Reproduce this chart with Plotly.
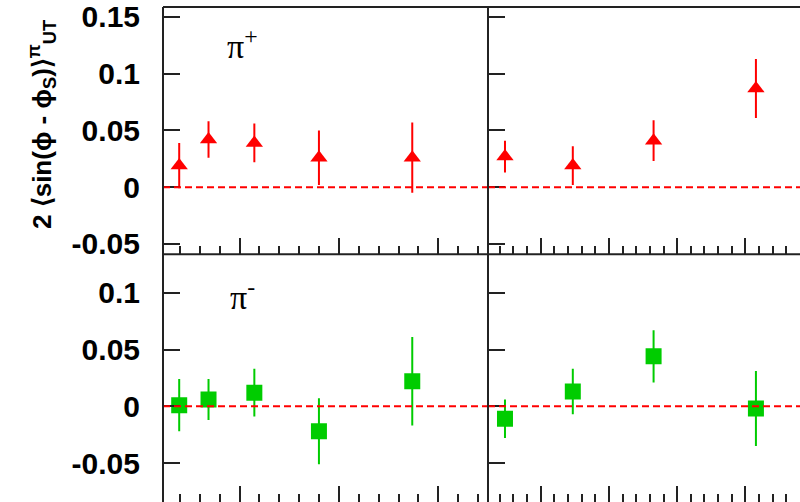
import plotly.graph_objects as go

# ---------------- data ----------------
# kinematic positions of the bins (left column / right column)
x_left = [0.0393, 0.0688, 0.1149, 0.1799, 0.2738]
x_right = [0.2476, 0.3470, 0.4654, 0.6154]

# pi+ asymmetries
pip_left = [0.019, 0.042, 0.039, 0.026, 0.026]
pip_left_err = [0.020, 0.016, 0.017, 0.024, 0.031]
pip_right = [0.027, 0.019, 0.041, 0.087]
pip_right_err = [0.014, 0.017, 0.018, 0.026]

# pi- asymmetries
pim_left = [0.001, 0.006, 0.012, -0.022, 0.022]
pim_left_err = [0.023, 0.018, 0.021, 0.029, 0.039]
pim_right = [-0.011, 0.013, 0.044, -0.002]
pim_right_err = [0.017, 0.020, 0.023, 0.033]

y_tick_vals = [-0.05, 0, 0.05, 0.1, 0.15]
y_tick_text = ["-0.05", "0", "0.05", "0.1", "0.15"]

panel_labels = ["π<sup>+</sup>", "π<sup>-</sup>"]
y_title = "2 ⟨sin(ϕ - ϕ<sub>S</sub>)⟩<sup>π</sup><sub>UT</sub>"

# ---------------- style ----------------
RED = "#ff0000"
GREEN = "#00cc00"
AXC = "#222222"
XDIV = 0.5102
YDIV = 0.5004
range_top = [-0.0591, 0.1587]
range_bot = [-0.0843, 0.1339]
range_left = [0.023, 0.35]
range_right = [0.2227, 0.68]

fig = go.Figure()


def add_points(x, y, err, color, symbol, size, xa, ya):
    fig.add_trace(go.Scatter(
        x=x, y=y, mode="markers", xaxis=xa, yaxis=ya,
        marker=dict(symbol=symbol, size=size, color=color, line=dict(width=0)),
        error_y=dict(type="data", array=err, visible=True, color=color,
                     thickness=2, width=0),
        showlegend=False, hoverinfo="skip"))


add_points(x_left, pip_left, pip_left_err, RED, "triangle-up", 15, "x", "y")
add_points(x_right, pip_right, pip_right_err, RED, "triangle-up", 15, "x2", "y2")
add_points(x_left, pim_left, pim_left_err, GREEN, "square", 16, "x3", "y3")
add_points(x_right, pim_right, pim_right_err, GREEN, "square", 16, "x4", "y4")


def xax(domain, rng, anchor):
    return dict(domain=domain, range=rng, anchor=anchor, showgrid=False,
                zeroline=False, showline=False, showticklabels=False,
                ticks="inside", ticklen=16, tickwidth=2, tickcolor=AXC,
                tick0=0, dtick=0.1,
                minor=dict(ticks="inside", ticklen=8, tickwidth=2,
                           tickcolor=AXC, tick0=0, dtick=0.02, showgrid=False))


def yax(domain, rng, anchor, labels):
    return dict(domain=domain, range=rng, anchor=anchor, showgrid=False,
                zeroline=False, showline=False, showticklabels=labels,
                ticks="inside", ticklen=17, tickwidth=2, tickcolor=AXC,
                tickmode="array", tickvals=y_tick_vals, ticktext=y_tick_text,
                ticklabelstandoff=22,
                tickfont=dict(family="Liberation Sans", size=30,
                              color="black", weight="bold"))


fig.update_layout(
    width=800, height=509,
    margin=dict(l=163, r=0, t=7, b=7, pad=0),
    plot_bgcolor="white", paper_bgcolor="white",
    xaxis=xax([0, XDIV], range_left, "y"),
    yaxis=yax([YDIV, 1], range_top, "x", True),
    xaxis2=xax([XDIV, 1], range_right, "y2"),
    yaxis2=yax([YDIV, 1], range_top, "x2", False),
    xaxis3=xax([0, XDIV], range_left, "y3"),
    yaxis3=yax([0, YDIV], range_bot, "x3", True),
    xaxis4=xax([XDIV, 1], range_right, "y4"),
    yaxis4=yax([0, YDIV], range_bot, "x4", False),
)

shapes = []
# dashed zero lines
for xs, ys in [("x", "y"), ("x2", "y2"), ("x3", "y3"), ("x4", "y4")]:
    shapes.append(dict(type="line", xref=xs + " domain", yref=ys,
                       x0=0, x1=1, y0=0, y1=0, layer="above",
                       line=dict(color=RED, width=2, dash="7px,4px")))
# frame lines
frame = dict(type="line", xref="paper", yref="paper", layer="above",
             line=dict(color=AXC, width=2))
shapes.append(dict(frame, x0=0, x1=0, y0=0, y1=1))
shapes.append(dict(frame, x0=XDIV, x1=XDIV, y0=0, y1=1))
shapes.append(dict(frame, x0=0, x1=1, y0=1, y1=1))
shapes.append(dict(frame, x0=0, x1=1, y0=YDIV, y1=YDIV))
fig.update_layout(shapes=shapes)

annotations = [
    dict(text=panel_labels[0], xref="x domain", yref="y domain",
         x=0.245, y=0.85, showarrow=False, xanchor="center", yanchor="middle",
         font=dict(family="Liberation Serif", size=34, color="black")),
    dict(text=panel_labels[1], xref="x3 domain", yref="y3 domain",
         x=0.245, y=0.835, showarrow=False, xanchor="center", yanchor="middle",
         font=dict(family="Liberation Serif", size=34, color="black")),
    dict(text=y_title, xref="paper", yref="paper",
         x=(42 - 163) / 637, y=(502 - 125) / 495, textangle=-90,
         showarrow=False, xanchor="center", yanchor="middle",
         font=dict(family="Liberation Sans", size=26, color="black",
                   weight="bold")),
]
fig.update_layout(annotations=annotations)

fig.write_html("out.html",
               config={"displayModeBar": False},
               post_script="document.body.style.margin='0px';"
                           "document.body.style.overflow='hidden';")
